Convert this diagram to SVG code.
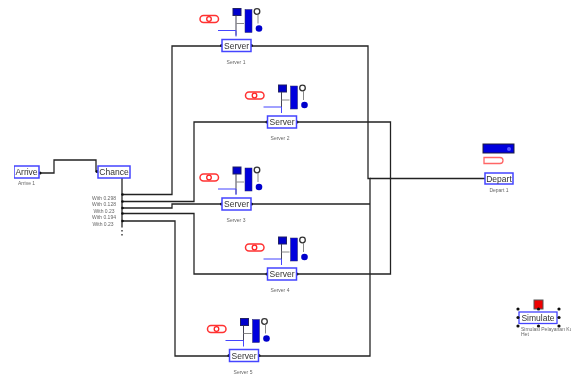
<svg xmlns="http://www.w3.org/2000/svg" width="571" height="375" viewBox="0 0 571 375">
<defs>
<filter id="soft" x="0" y="0" width="100%" height="100%"><feGaussianBlur stdDeviation="0.45"/></filter>
<style>
text{font-family:"Liberation Sans",Arial,sans-serif;text-anchor:middle;fill:#333}
.nm{font-size:8.5px}
.lb{font-size:5px;fill:#666}
.box{fill:#fff;stroke:#4444ff;stroke-width:1.5}
.w{stroke:#222;stroke-width:1.3;fill:none}
.dot{fill:#111}
</style>
<g id="srv">
<rect x="-36" y="-30" width="18.500" height="7" rx="3.500" fill="#fff" stroke="#f33" stroke-width="1.500"/>
<circle cx="-27" cy="-26.500" r="2.300" fill="#fff" stroke="#f22" stroke-width="1.300"/>
<rect x="-3" y="-37" width="8" height="7" fill="#00c" stroke="#226"/>
<rect x="9" y="-36" width="7" height="23" fill="#00d" stroke="#226" stroke-width=".5"/>
<circle cx="21" cy="-34" r="2.800" fill="#fff" stroke="#333" stroke-width="1.300"/>
<circle cx="23" cy="-17" r="3.300" fill="#00c"/>
<path d="M0-30V-10" stroke="#445" fill="none"/>
<path d="M0-22H8M22-31V-22" stroke="#888" fill="none"/>
<path d="M-18-15H0V-9" stroke="#44f" fill="none"/>
<circle cx="-14.500" cy="0" r="1.500" class="dot"/><circle cx="15.500" cy="0" r="1.500" class="dot"/>
<rect x="-14" y="-6" width="29" height="12" class="box"/>
<text y="3" x="0.500" class="nm">Server</text>
</g>
</defs>
<rect width="571" height="375" fill="#fff"/>
<g filter="url(#soft)">
<g id="connectors" class="w">
<path d="M40 173H54V160H96V171H98"/>
<path d="M122 178V226"/>
<path d="M122 226V237" stroke-dasharray="1.500 2.500"/>
<path d="M122 194.500H172V46H222"/>
<path d="M122 201.500H194V122H267"/>
<path d="M122 208H172V204H222"/>
<path d="M122 213.500H194V274H267"/>
<path d="M122 221H175V356H229"/>
<path d="M250 46H368V178.500H370V356H258"/>
<path d="M250 204H370"/>
<path d="M296 122H390.500V274H296"/>
<path d="M370 178.500H485"/>
</g>
<g id="arrive"><circle cx="40" cy="173" r="1.500" class="dot"/><rect x="14" y="166" width="25" height="12" class="box"/><text x="26.500" y="175" class="nm">Arrive</text><text x="26.500" y="185" class="lb">Arrive 1</text></g>
<g id="chance"><circle cx="97" cy="171.500" r="1.500" class="dot"/><rect x="98" y="166" width="32" height="12" class="box"/><text x="114" y="175" class="nm">Chance</text>
<g><text x="104" y="199.500" class="lb">With 0.298</text><text x="104" y="205.500" class="lb">With 0.128</text><text x="104" y="212.500" class="lb">With 0.23</text><text x="104" y="219" class="lb">With 0.194</text><text x="103" y="225.500" class="lb">With 0.23</text></g>
<g class="dot"><circle cx="122.500" cy="194.500" r="1.300"/><circle cx="122.500" cy="201.500" r="1.300"/><circle cx="122.500" cy="208" r="1.300"/><circle cx="122.500" cy="213.500" r="1.300"/><circle cx="122.500" cy="221" r="1.300"/></g></g>
<g id="server1"><use href="#srv" x="236" y="45.500"/><text x="236" y="64" class="lb">Server 1</text></g>
<g id="server2"><use href="#srv" x="281.500" y="122"/><text x="280" y="140" class="lb">Server 2</text></g>
<g id="server3"><use href="#srv" x="236" y="204"/><text x="236" y="222" class="lb">Server 3</text></g>
<g id="server4"><use href="#srv" x="281.500" y="274"/><text x="280" y="292" class="lb">Server 4</text></g>
<g id="server5"><use href="#srv" x="243.500" y="355.500"/><text x="243" y="373.500" class="lb">Server 5</text></g>
<g id="depart"><rect x="483" y="144" width="31" height="9" fill="#00d" stroke="#224"/><circle cx="509" cy="149" r="2" fill="#55f"/><path d="M484 157.500H500Q503 157.500 503 160.500Q503 163.500 500 163.500H484Z" fill="#fff" stroke="#f66" stroke-width="1.300"/><rect x="485" y="173" width="28" height="11" class="box"/><text x="499" y="181.500" class="nm">Depart</text><text x="499" y="192" class="lb">Depart 1</text></g>
<g id="simulate"><rect x="534" y="300" width="9" height="9" fill="#e00" stroke="#555"/><rect x="519" y="312" width="38" height="11.500" fill="#fff" stroke="#44f" stroke-width="1.300"/><g class="dot"><circle cx="518" cy="309" r="1.600"/><circle cx="538.500" cy="309" r="1.600"/><circle cx="559" cy="309" r="1.600"/><circle cx="518" cy="317.500" r="1.600"/><circle cx="559" cy="317.500" r="1.600"/><circle cx="518" cy="326" r="1.600"/><circle cx="538.500" cy="326" r="1.600"/><circle cx="559" cy="326" r="1.600"/></g><text x="538" y="320.500" class="nm">Simulate</text><text x="521" y="331" class="lb" style="text-anchor:start">Simulasi Pelayanan Ka</text><text x="521" y="336" class="lb" style="text-anchor:start">Het</text></g>
</g>
</svg>
